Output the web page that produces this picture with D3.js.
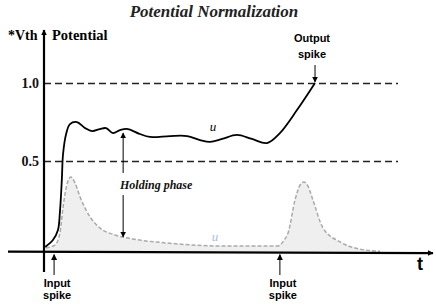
<!DOCTYPE html>
<html>
<head>
<meta charset="utf-8">
<script src="https://cdn.jsdelivr.net/npm/d3@7"></script>
<style>
  body { margin: 0; background: #fff; }
  svg { display: block; }
</style>
</head>
<body>
<svg id="chart" width="436" height="306"></svg>
<script>
// ---- data (time in arbitrary units, potential in *Vth) ----
var uTime = [0.3, 2.3, 3.6, 4.1, 4.6, 4.9, 5.7, 6.7, 8.5, 10.6, 12.4, 14.4, 16.0, 17.8, 19.6, 21.6, 24.7, 27.3, 32.5, 36.9, 40.2, 42.8, 45.9, 49.7, 53.6, 57.5, 60.8, 65.2, 69.85];
var uValue = [-0.055, -0.01, 0.055, 0.17, 0.38, 0.54, 0.672, 0.736, 0.749, 0.71, 0.691, 0.704, 0.71, 0.678, 0.697, 0.704, 0.672, 0.653, 0.659, 0.659, 0.633, 0.621, 0.64, 0.666, 0.64, 0.614, 0.678, 0.826, 1.0];

var psTime = [0.5, 2.8, 4.1, 4.9, 5.7, 6.9, 8.0, 9.3, 11.9, 14.4, 18.3, 22.9, 31.7, 45.4, 60.3, 61.9, 62.9, 64.7, 66.0, 67.0, 68.0, 69.3, 71.9, 76.3, 81.4, 86.6];
var psValue = [-0.061, -0.042, 0.035, 0.2, 0.325, 0.395, 0.357, 0.267, 0.138, 0.068, 0.023, -0.003, -0.029, -0.048, -0.048, -0.01, 0.035, 0.248, 0.344, 0.363, 0.338, 0.248, 0.068, -0.022, -0.068, -0.082];

var thresholdTicks = [1.0, 0.5];
var inputSpikes = [2.6, 60.8];
var outputSpike = 69.85;
var holdingTime = 20.4;
var holdingRange = [0.678, 0.01];

var svg = d3.select("#chart");

var x = d3.scaleLinear().domain([0, 100]).range([44, 432]);
var y = d3.scaleLinear().domain([0, 1]).range([238.5, 83]);
var axisV = -0.084;

svg.append("defs").append("marker")
  .attr("id", "arrow")
  .attr("viewBox", "0 0 10 10")
  .attr("refX", 9).attr("refY", 5)
  .attr("markerWidth", 6).attr("markerHeight", 6)
  .attr("markerUnits", "userSpaceOnUse")
  .attr("orient", "auto-start-reverse")
  .append("path")
  .attr("d", "M0,0L10,5L0,10z")
  .attr("fill", "#000");

// title
svg.append("text")
  .attr("x", 214).attr("y", 17)
  .attr("text-anchor", "middle")
  .style("font-family", "Liberation Serif, serif")
  .style("font-weight", "bold")
  .style("font-style", "italic")
  .style("font-size", "17px")
  .style("fill", "#222")
  .text("Potential Normalization");

// ---- area under postsynaptic response ----
var psData = psTime.map(function(t, i) { return {t: t, v: psValue[i]}; });
var uData = uTime.map(function(t, i) { return {t: t, v: uValue[i]}; });

svg.append("path")
  .datum(psData)
  .attr("d", d3.area()
    .x(function(d) { return x(d.t); })
    .y0(y(axisV))
    .y1(function(d) { return y(d.v); })
    .curve(d3.curveMonotoneX))
  .attr("fill", "#efefef");

// dashed threshold lines
svg.selectAll(".grid")
  .data(thresholdTicks)
  .enter().append("line")
  .attr("x1", x(0)).attr("x2", 398)
  .attr("y1", function(d) { return Math.round(y(d)) + 0.5; })
  .attr("y2", function(d) { return Math.round(y(d)) + 0.5; })
  .attr("stroke", "#222")
  .attr("stroke-width", 1.3)
  .attr("stroke-dasharray", "7,4");

// tick labels
var yAxis = svg.append("g")
  .attr("transform", "translate(39,0)")
  .call(d3.axisLeft(y).tickValues(thresholdTicks).tickSize(0).tickPadding(0).tickFormat(d3.format(".1f")));
yAxis.select(".domain").remove();
yAxis.selectAll("text")
  .attr("dy", "0.35em")
  .style("font-family", "Liberation Serif, serif")
  .style("font-weight", "bold")
  .style("font-size", "14px")
  .style("fill", "#111");

// grey dashed response curve
svg.append("path")
  .datum(psData)
  .attr("d", d3.line()
    .x(function(d) { return x(d.t); })
    .y(function(d) { return y(d.v); })
    .curve(d3.curveMonotoneX))
  .attr("fill", "none")
  .attr("stroke", "#aaa")
  .attr("stroke-width", 1.5)
  .attr("stroke-dasharray", "4,2");

// membrane potential u
svg.append("path")
  .datum(uData)
  .attr("d", d3.line()
    .x(function(d) { return x(d.t); })
    .y(function(d) { return y(d.v); })
    .curve(d3.curveCatmullRom))
  .attr("fill", "none")
  .attr("stroke", "#000")
  .attr("stroke-width", 1.8);

// ---- axes ----
svg.append("line")
  .attr("x1", 8).attr("x2", 433)
  .attr("y1", y(axisV)).attr("y2", y(axisV) + 1.5)
  .attr("stroke", "#000")
  .attr("stroke-width", 2.2)
  .attr("marker-end", "url(#arrow)");

svg.append("line")
  .attr("x1", x(0)).attr("x2", x(0))
  .attr("y1", 272).attr("y2", 30)
  .attr("stroke", "#000")
  .attr("stroke-width", 2.2)
  .attr("marker-end", "url(#arrow)");

svg.append("text")
  .attr("x", 8).attr("y", 40)
  .style("font-family", "Liberation Serif, serif")
  .style("font-weight", "bold")
  .style("font-size", "14px")
  .text("*Vth");

svg.append("text")
  .attr("x", 52).attr("y", 40)
  .style("font-family", "Liberation Serif, serif")
  .style("font-weight", "bold")
  .style("font-size", "14.5px")
  .text("Potential");

svg.append("text")
  .attr("x", 417).attr("y", 270)
  .style("font-family", "Liberation Sans, sans-serif")
  .style("font-weight", "bold")
  .style("font-size", "18px")
  .text("t");

// ---- annotations ----
var sans = "Liberation Sans, sans-serif";

inputSpikes.forEach(function(t) {
  svg.append("line")
    .attr("x1", x(t)).attr("x2", x(t))
    .attr("y1", 275).attr("y2", y(axisV) + 3)
    .attr("stroke", "#000")
    .attr("stroke-width", 1)
    .attr("marker-end", "url(#arrow)");
  var lbl = svg.append("text")
    .attr("text-anchor", "middle")
    .style("font-family", sans)
    .style("font-weight", "bold")
    .style("font-size", "11px");
  lbl.append("tspan").attr("x", x(t) + 3).attr("y", 287).text("Input");
  lbl.append("tspan").attr("x", x(t) + 3).attr("y", 299).text("spike");
});

svg.append("line")
  .attr("x1", x(outputSpike)).attr("x2", x(outputSpike))
  .attr("y1", 65).attr("y2", y(1) - 1)
  .attr("stroke", "#000")
  .attr("stroke-width", 1)
  .attr("marker-end", "url(#arrow)");
var out = svg.append("text")
  .attr("text-anchor", "middle")
  .style("font-family", sans)
  .style("font-weight", "bold")
  .style("font-size", "11px");
out.append("tspan").attr("x", x(outputSpike) - 3).attr("y", 42).text("Output");
out.append("tspan").attr("x", x(outputSpike) - 3).attr("y", 58).text("spike");

// holding phase double arrow, broken by its label
var hx = x(holdingTime);
svg.append("line")
  .attr("x1", hx).attr("x2", hx)
  .attr("y1", 173).attr("y2", y(holdingRange[0]))
  .attr("stroke", "#000").attr("stroke-width", 1)
  .attr("marker-end", "url(#arrow)");
svg.append("line")
  .attr("x1", hx).attr("x2", hx)
  .attr("y1", 195).attr("y2", y(holdingRange[1]))
  .attr("stroke", "#000").attr("stroke-width", 1)
  .attr("marker-end", "url(#arrow)");
svg.append("text")
  .attr("x", 120).attr("y", 189)
  .style("font-family", "Liberation Serif, serif")
  .style("font-weight", "bold")
  .style("font-style", "italic")
  .style("font-size", "12px")
  .style("fill", "#111")
  .text("Holding phase");

// curve labels
svg.append("text")
  .attr("x", 213).attr("y", 131)
  .attr("text-anchor", "middle")
  .style("font-family", "Liberation Serif, serif")
  .style("font-style", "italic")
  .style("font-size", "13px")
  .text("u");

svg.append("text")
  .attr("x", 215).attr("y", 241)
  .attr("text-anchor", "middle")
  .style("font-family", "Liberation Serif, serif")
  .style("font-style", "italic")
  .style("font-size", "13px")
  .style("fill", "#a9bde3")
  .text("u");
</script>
</body>
</html>
